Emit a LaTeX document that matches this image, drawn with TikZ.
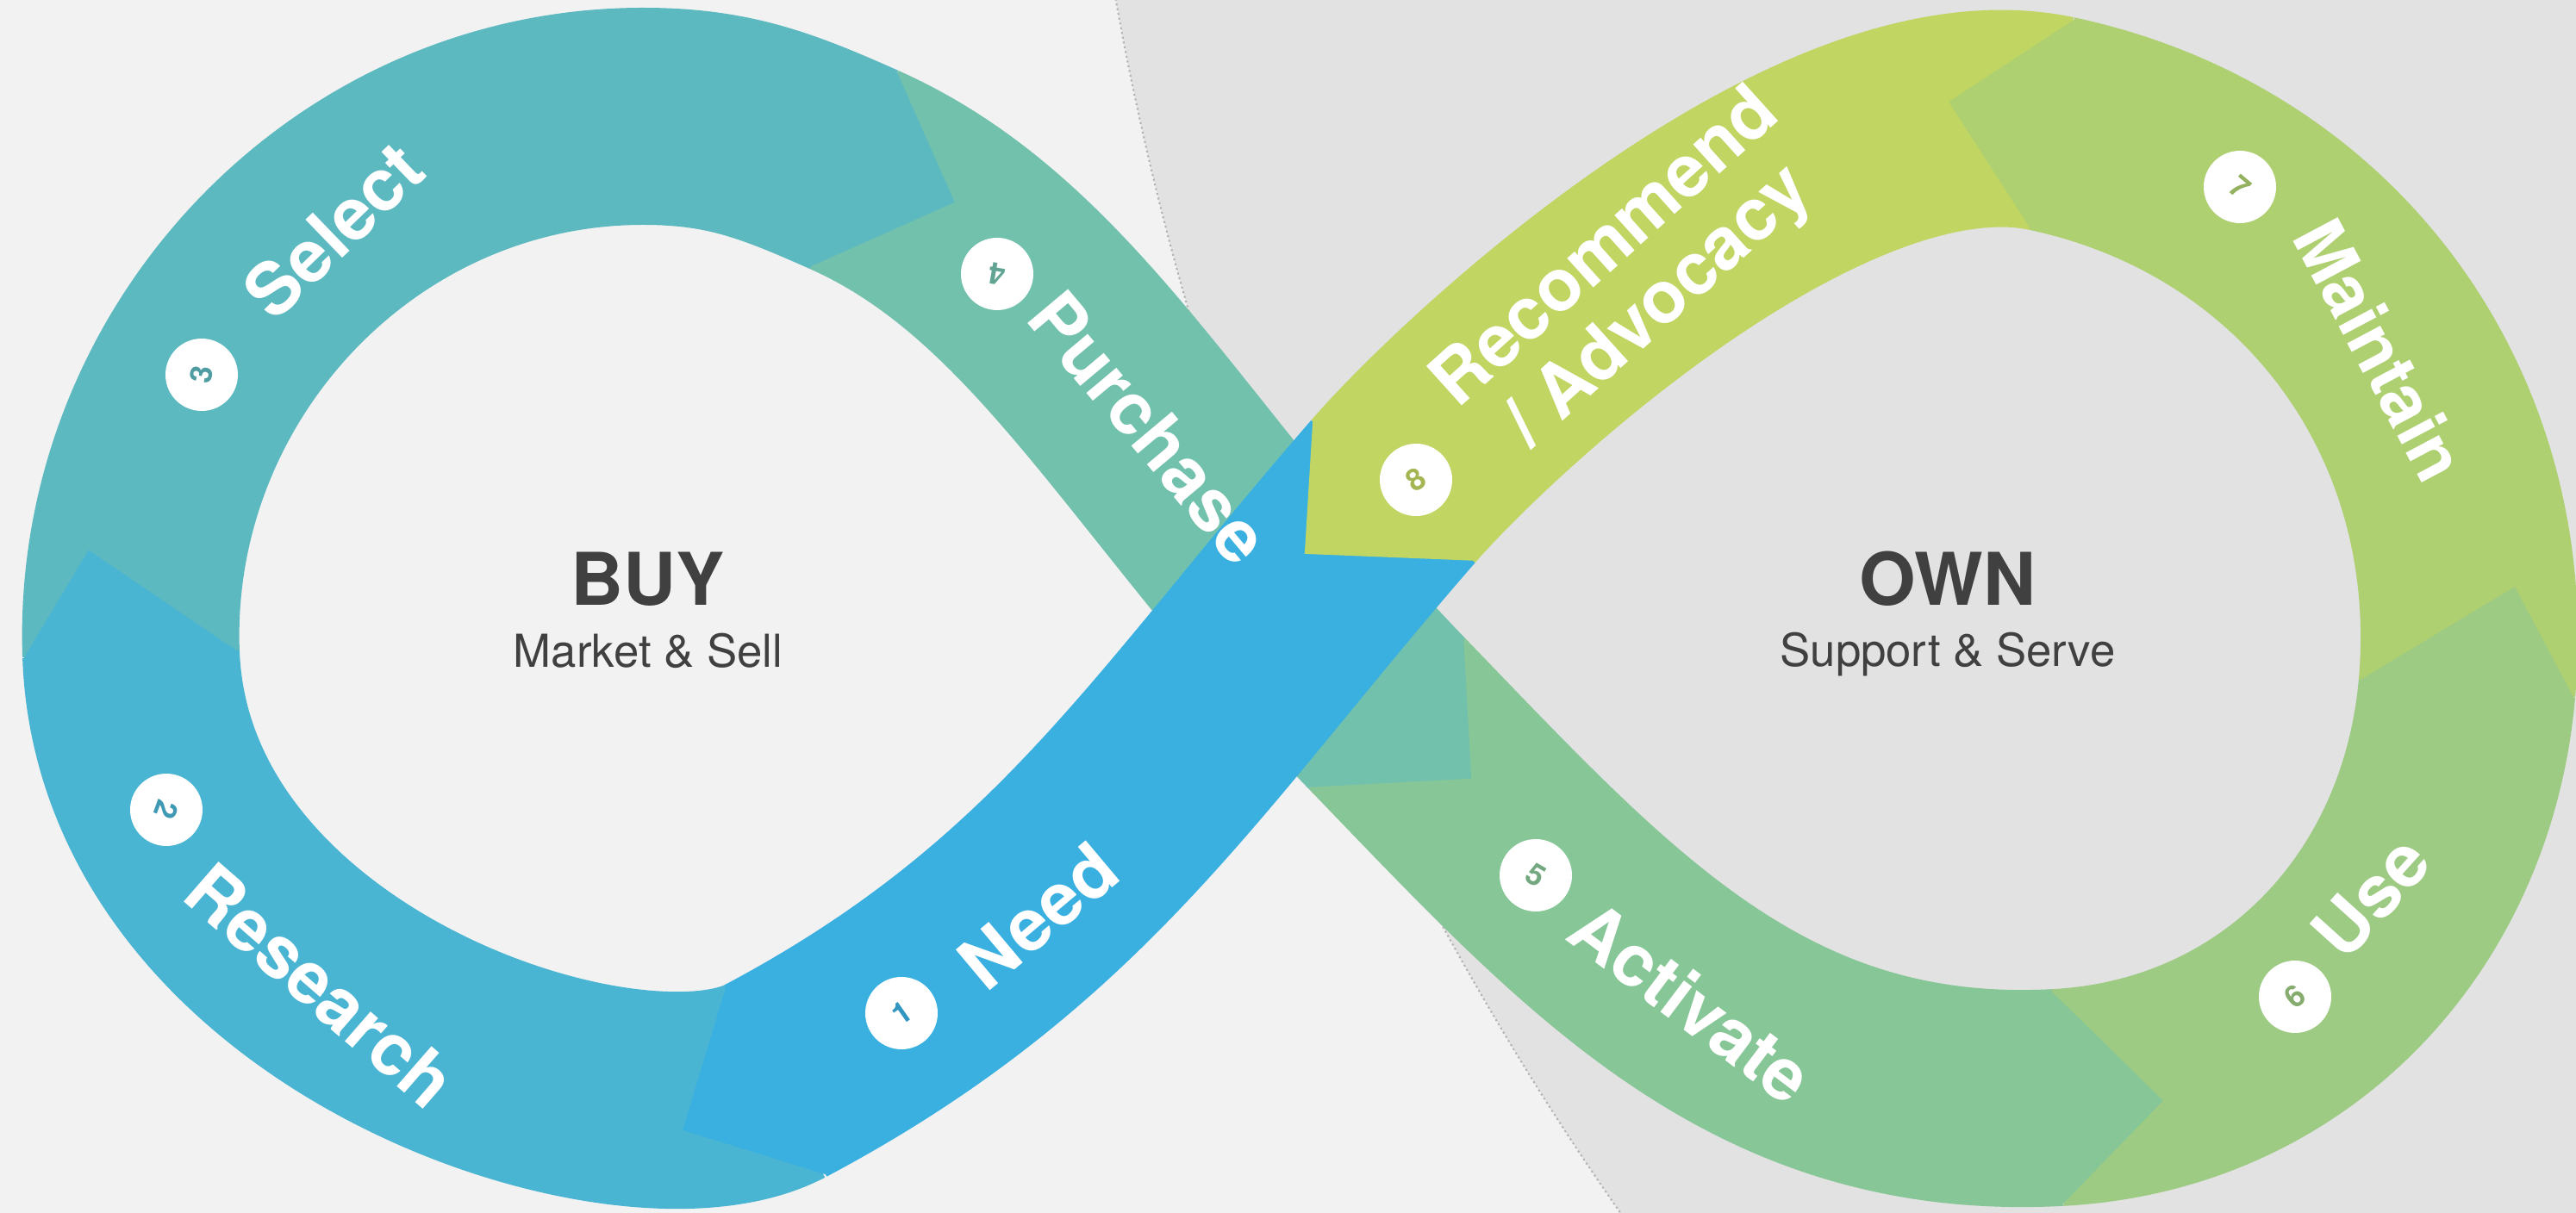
\documentclass[tikz,border=0pt]{standalone}
\usepackage{fontspec}
\setmainfont{TeX Gyre Heros}
\definecolor{cneed}{HTML}{3AB0E1}
\definecolor{cresearch}{HTML}{4AB4D3}
\definecolor{cselect}{HTML}{5DB9C0}
\definecolor{cpurchase}{HTML}{72C1AD}
\definecolor{cactivate}{HTML}{87C697}
\definecolor{cuse}{HTML}{9ECB83}
\definecolor{cmaintain}{HTML}{AED071}
\definecolor{crecommend}{HTML}{C1D562}
\definecolor{bgleft}{HTML}{F2F2F2}
\definecolor{bgright}{HTML}{E2E2E2}
\definecolor{textdark}{HTML}{404040}
\begin{document}
\begin{tikzpicture}[
  band/.style={line width=2.52cm},
  stagetext/.style={text=white, font=\bfseries\fontsize{24}{26}\selectfont},
  numdot/.style={circle, fill=white, minimum size=0.84cm, inner sep=0pt,
    font=\bfseries\fontsize{10}{10}\selectfont},
  headtext/.style={text=textdark, font=\bfseries\fontsize{24}{26}\selectfont},
  subtext/.style={text=textdark, font=\fontsize{15}{17}\selectfont}]
  \useasboundingbox (0,0) rectangle (29.89,14.08);
  \clip (0,0) rectangle (29.89,14.08);
  % Background
  \fill[bgleft] (0,0) rectangle (29.89,14.08);
  \filldraw[fill=bgright, draw=black!30, densely dotted, line width=0.6pt]
    (48.16,20.46) circle (35.78);
  % Stage borders
  \coordinate (d81) at (16.165,8.375);
  \coordinate (d12) at (9.00,1.535);
  \coordinate (d23) at (1.52,6.49);
  \coordinate (tl) at (7.46,12.73);
  \coordinate (d34) at (9.91,12.11);
  \coordinate (d45) at (16.095,5.795);
  \coordinate (d56) at (23.875,1.34);
  \coordinate (d67) at (28.625,6.095);
  \coordinate (d78) at (23.805,12.645);
  % Band
  \draw[band, cresearch] (d12) to[out=208,in=272,out looseness=0.55,in looseness=1.15] (d23);
  \draw[band, cselect] (d23) to[out=92,in=180] (tl) to[out=0,in=156] (d34);
  \draw[band, cpurchase] (d34) to[out=-24,in=134,out looseness=0.75,in looseness=1.1] (d45);
  \draw[band, cactivate] (d45) to[out=-46,in=183] (d56);
  \draw[band, cuse] (d56) to[out=3,in=265] (d67);
  \draw[band, cmaintain] (d67) to[out=85,in=-12] (d78);
  \draw[band, crecommend] (d78) to[out=168,in=49,out looseness=0.8,in looseness=0.45] (d81);
  % Tip under the crossing
  \fill[cpurchase, shift={(d45)}, rotate=-46] (-0.03,1.26) -- (1.22,0.18) -- (-0.03,-1.26) -- cycle;
  \draw[band, cneed] (d81) to[out=229,in=28] (d12);
  % Tips
  \foreach \p/\a/\l/\c in {d12/208/0/cneed, d23/92/0.45/cresearch, d34/-24/0.13/cselect,
    d56/3/-0.1/cactivate, d67/85/-0.45/cuse, d78/168/0/cmaintain, d81/229/-0.3/crecommend}
    \fill[\c, shift={(\p)}, rotate=\a] (-0.03,1.26) -- (1.22,\l) -- (-0.03,-1.26) -- cycle;
  % Numbers
  \foreach \n/\x/\y/\r/\c in {1/10.46/2.32/35/cneed, 2/1.93/4.68/-110/cresearch,
    3/2.34/9.73/80/cselect, 4/11.57/10.90/170/cpurchase,
    5/17.82/3.92/-30/cactivate, 6/26.63/2.51/40/cuse,
    7/25.99/11.91/-40/cmaintain, 8/16.43/8.51/33/crecommend}
    \node[numdot, text=\c!85!black, rotate=\r] (n\n) at (\x,\y) {\n};
  % Stage names
  \node[stagetext, rotate=40] (need) at (12.05,3.45) {Need};
  \node[stagetext, rotate=-41] (research) at (3.72,2.64) {Research};
  \node[stagetext, rotate=44] (select) at (3.87,11.41) {Select};
  \node[stagetext, rotate=-50] (purchase) at (13.34,9.12) {Purchase};
  \node[stagetext, rotate=-37] (activate) at (19.63,2.45) {Activate};
  \node[stagetext, rotate=48] (use) at (27.51,3.67) {Use};
  \node[stagetext, rotate=-62, font=\bfseries\fontsize{23}{25}\selectfont] (maintain) at (27.62,10.02) {Maintain};
  \node[stagetext, rotate=42, align=center] (recommend) at (18.96,10.84) {Recommend\\/ Advocacy};
  % Loop titles
  \node[headtext] (buy) at (7.52,7.36) {BUY};
  \node[subtext] (buysub) at (7.52,6.53) {Market \& Sell};
  \node[headtext] (own) at (22.60,7.36) {OWN};
  \node[subtext] (ownsub) at (22.60,6.48) {Support \& Serve};
\end{tikzpicture}
\end{document}
